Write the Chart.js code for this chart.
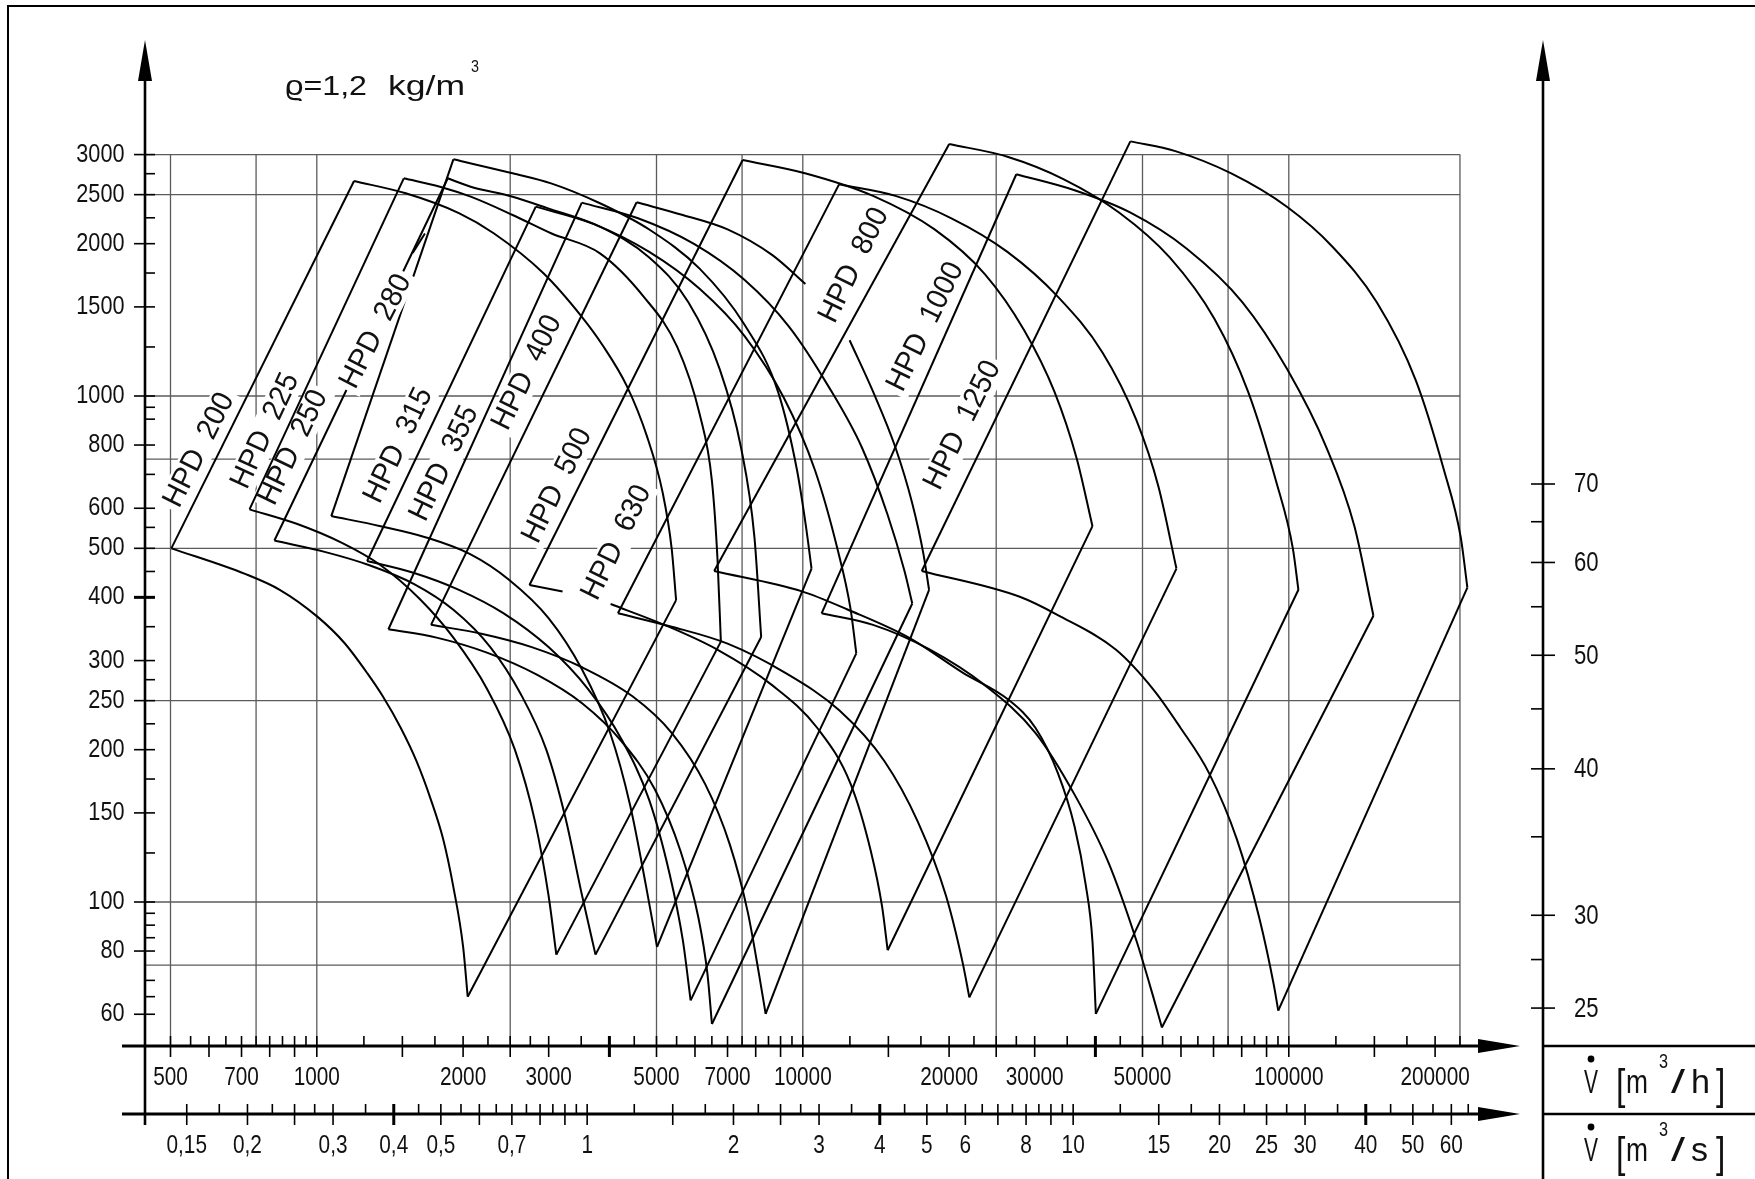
<!DOCTYPE html>
<html>
<head>
<meta charset="utf-8">
<title>HPD fan performance chart</title>
<script src="https://cdn.jsdelivr.net/npm/chart.js@4.4.1/dist/chart.umd.min.js"></script>
<style>
html,body{margin:0;padding:0;background:#ffffff;overflow:hidden}
#wrap{width:1755px;height:1179px}
canvas{display:block}
</style>
</head>
<body>
<div id="wrap"><canvas id="chart" width="1755" height="1179"></canvas></div>
<script>
// ===================== DATA (flow m3/h, pressure Pa) =====================
const fanNames = ['HPD 200','HPD 225','HPD 250','HPD 280','HPD 315','HPD 355','HPD 400','HPD 500','HPD 630','HPD 800','HPD 1000','HPD 1250'];

// lower (minimum speed) characteristic, from left corner to bottom corner
const hpd200Low = [[502,500],[712,445],[839,414],[1004,366],[1140,325],[1271,283],[1367,255],[1488,221],[1603,190],[1718,159],[1820,133],[1910,107],[2000,81.6],[2044,65.0]];
const hpd225Low = [[727,597],[909,559],[1124,513],[1353,463],[1629,397],[1910,333],[2239,264],[2556,200],[2813,144],[2998,103],[3111,78.7]];
const hpd250Low = [[818,518],[1038,492],[1283,463],[1586,425],[1910,378],[2275,319],[2626,258],[2966,200],[3246,147],[3514,103],[3745,78.7]];
const hpd280Low = [[1071,579],[1353,553],[1672,526],[2068,487],[2489,433],[2998,364],[3514,288],[4013,216],[4415,155],[4754,108],[5014,81.5]];
const hpd315Low = [[1269,472],[1586,447],[1961,414],[2424,372],[2998,319],[3609,264],[4232,210],[4831,159],[5316,114],[5664,84.1],[5878,63.9]];
const hpd355Low = [[1404,346],[1764,333],[2239,311],[2843,281],[3514,247],[4232,208],[4960,167],[5604,126],[6100,93],[6364,72.2],[6502,57.4]];
const hpd400Low = [[1718,353],[2181,339],[2768,319],[3514,291],[4462,255],[5372,216],[6297,171],[7075,130],[7705,95.5],[8123,72.2],[8386,60.1]];
const hpd500Low = [[2739,423],[3204,411],null,[4023,388],[5187,353],[6641,316],[8658,268],[10702,221],[12548,171],[13804,126],[14558,98],[14950,80.3]];
const hpd630Low = [[4165,372],[5372,350],[7002,324],[9129,285],[11899,239],[14714,190],[17250,144],[19700,103],[21325,75.9],[22014,64.8]];
const hpd800Low = [[6571,451],[9963,411],[12390,378],[16530,333],[21325,284],[26500,251],[30100,221],[33470,180],[36240,141],[38215,108],[39450,83.5],[40085,60.1]];
const hpd1000Low = [[10932,372],[13950,353],[18188,316],[23711,268],[30100,216],[36242,163],[42498,120],[48530,84.1],[52530,65.3],[54810,56.5]];
const hpd1250Low = [[17570,451],[27950,401],[33470,369],[44110,315],[52800,262],[59660,222],[68486,180],[78200,133],[86960,93],[93140,68.6],[95128,61.0]];

// upper (maximum speed) characteristic, from top corner to right corner
const hpd200High = [[1193,2660],[1524,2515],[1965,2296],[2312,2097],[2927,1748],[3510,1434],[3867,1263],[4345,1046],[4780,832],[5147,645],[5372,500],[5487,395]];
const hpd225High = [[1510,2693],[1792,2592],[2073,2477],[2529,2279],[3034,2097],[3825,1914],[4704,1572],[5516,1250],[6133,921],[6502,679],[6676,475],[6783,327]];
const hpd250High = [[1860,2693],[2073,2592],[2529,2477],[2982,2351],[3825,2161],[4831,1879],[5815,1532],[6748,1129],[7462,791],[7952,526],[8210,334]];
const hpd280High = [[1910,2936],[2529,2755],[3034,2632],[3825,2404],[4831,2133],[6133,1785],[7583,1384],[8891,1020],[9728,714],[10149,553],[10422,456]];
const hpd315High = [[2822,2367],[3706,2189],[4831,1927],[6133,1629],[7583,1315],[9129,994],[10590,714],[11776,500],[12548,378],[12885,310]];
const hpd355High = [[3510,2411],[4581,2245],[5972,1998],[7583,1697],[9374,1370],[11284,1046],[13230,791],[14950,582],[16190,451],[16799,389]];
const hpd400High = [[4551,2415],[5664,2279],[7002,2134],[8658,1898],[10123,1665],null,[12482,1289],[13950,1020],[15511,791],[16799,613],[17712,487],[18188,414]];
const hpd500High = [[7521,2926],[10149,2753],[13950,2486],[18670,2134],[23711,1740],[28540,1349],[32940,1020],[36630,751],[39447,553]];
const hpd630High = [[11874,2620],[15511,2486],[20222,2245],[26363,1927],[33470,1572],[41390,1218],[48530,898],[53950,661],[58725,456]];
const hpd800High = [[20010,3147],[26363,2971],[34365,2684],[44807,2303],[56880,1879],[70330,1420],[82450,1020],[94125,679],[101930,500],[104660,414]];
const hpd1000High = [[27500,2743],[36242,2550],[47243,2303],[61589,1957],[80296,1532],[99263,1129],[119530,791],[136458,553],[149320,368]];
const hpd1250High = [[47200,3186],[58415,3047],[76140,2753],[99263,2363],[122710,1977],[151710,1532],[182600,1073],[208550,714],[225800,526],[233050,418]];

const hpd280Leader = [[1575,1918],[1669,2095]];

const lowCurves = [hpd200Low,hpd225Low,hpd250Low,hpd280Low,hpd315Low,hpd355Low,hpd400Low,hpd500Low,hpd630Low,hpd800Low,hpd1000Low,hpd1250Low];
const highCurves = [hpd200High,hpd225High,hpd250High,hpd280High,hpd315High,hpd355High,hpd400High,hpd500High,hpd630High,hpd800High,hpd1000High,hpd1250High];

// fan name labels: anchor (flow, pressure) and text angle (deg)
const labelFlow = [573,784,895,1324,1473,1830,2710,3128,4142,12750,17900,21325];
const labelPressure = [782,853,791,1342,799,736,1112,665,513,1813,1370,875];
const labelAngle = [63.4,65,64.4,63,64.5,64.5,64,64,64,64,64,64];

// axes
const yTickLabels = [3000,2500,2000,1500,1000,800,600,500,400,300,250,200,150,100,80,60];
const yMinorTicks = [2750,2250,1750,1250,950,900,700,550,450,350,275,225,175,125,95,90,85,70,65];
const yThickTicks = [400];
const yGridLines = [3000,2500,1000,750,500,250,100,75];
const xGridLines = [500,750,1000,2500,5000,7500,10000,25000,50000,75000,100000,225000];
const xTickLabels = [500,700,1000,2000,3000,5000,7000,10000,20000,30000,50000,100000,200000];
const xLongTicks = [500,600,700,800,900,1000,1500,2000,2500,3000,4000,5000,6000,7000,8000,9000,10000,15000,20000,25000,30000,40000,50000,60000,70000,80000,90000,100000,150000,200000];
const xShortTicks = [550,650,750,850,950,1250,1750,2250,2750,3500,4500,5500,6500,7500,8500,9500,12500,17500,22500,27500,35000,45000,55000,65000,75000,85000,95000,125000,175000,225000];
const xThickTicks = [4000,40000];
const sTickLabels = [0.15,0.2,0.3,0.4,0.5,0.7,1,2,3,4,5,6,8,10,15,20,25,30,40,50,60];
const sLongTicks = [0.15,0.2,0.25,0.3,0.4,0.5,0.6,0.7,0.8,0.9,1,1.5,2,2.5,3,4,5,6,7,8,9,10,15,20,25,30,40,50,60];
const sShortTicks = [0.175,0.225,0.275,0.35,0.45,0.55,0.65,0.75,0.85,0.95,1.25,1.75,2.25,2.75,3.5,4.5,5.5,6.5,7.5,8.5,9.5,12.5,17.5,22.5,27.5,35,45,55,65];
const sThickTicks = [0.4,4,40];
const rightTickLabels = [70,60,50,40,30,25];
const rightMinorTicks = [65,55,45,35,27.5];

// ===================== LAYOUT =====================
const W = 1755, H = 1179;
const plotLeft = 145, plotRight = 1520, plotTop = 40, plotBottom = 1046;
const xRef = {value:1000, px:316.8, perDecade:486};
const yRef = {value:1000, px:396, perDecade:506};
const y2Ref = {value:70, px:484, perDecade:1172};
const axis2Offset = 68;      // second (m3/s) axis below the first
const rightAxisX = 1543;
const GRID = '#5b5b5b';
const FONT = '"Liberation Sans","DejaVu Sans",Arial,sans-serif';
const wipeoutLabels = ['HPD 280'];   // labels whose white box also hides the curves below

const xMin = xRef.value * Math.pow(10, (plotLeft - xRef.px) / xRef.perDecade);
const xMax = xRef.value * Math.pow(10, (plotRight - xRef.px) / xRef.perDecade);
const yMin = yRef.value * Math.pow(10, (yRef.px - plotBottom) / yRef.perDecade);
const yMax = yRef.value * Math.pow(10, (yRef.px - plotTop) / yRef.perDecade);
const y2Min = y2Ref.value * Math.pow(10, (y2Ref.px - plotBottom) / y2Ref.perDecade);
const y2Max = y2Ref.value * Math.pow(10, (y2Ref.px - plotTop) / y2Ref.perDecade);

// ===================== DATASETS =====================
function toPts(arr){
  const out = []; let lastX = null;
  arr.forEach(p => {
    if (p) { out.push({x:p[0], y:p[1]}); lastX = p[0]; }
    else { out.push({x:lastX, y:null}); }
  });
  return out;
}
const common = {showLine:true, borderColor:'#000', borderWidth:2, pointRadius:0, fill:false, clip:false, spanGaps:false};
const datasets = [];
fanNames.forEach((name, i) => {
  const low = lowCurves[i], high = highCurves[i];
  datasets.push(Object.assign({label:name+' low', data:toPts(low), cubicInterpolationMode:'monotone'}, common));
  datasets.push(Object.assign({label:name+' high', data:toPts(high), cubicInterpolationMode:'monotone'}, common));
  datasets.push(Object.assign({label:name+' left', data:toPts([low[0], high[0]]), tension:0}, common));
  datasets.push(Object.assign({label:name+' right', data:toPts([low[low.length-1], high[high.length-1]]), tension:0}, common));
});
datasets.push(Object.assign({label:'HPD 280 leader', data:toPts(hpd280Leader), tension:0}, common));

// ===================== DRAW HELPERS =====================
function seg(ctx, x1, y1, x2, y2, w, c){
  ctx.beginPath(); ctx.moveTo(x1, y1); ctx.lineTo(x2, y2);
  ctx.lineWidth = w; ctx.strokeStyle = c || '#000'; ctx.stroke();
}
function txt(ctx, s, x, y, size, opt){
  opt = opt || {};
  ctx.save();
  ctx.translate(x, y);
  if (opt.rot) ctx.rotate(opt.rot);
  ctx.font = size + 'px ' + FONT;
  let sx = opt.sx || 1;
  if (opt.width) sx = opt.width / ctx.measureText(s).width;
  ctx.scale(sx, 1);
  ctx.textAlign = opt.align || 'center';
  ctx.textBaseline = opt.base || 'middle';
  ctx.fillStyle = '#111';
  ctx.fillText(s, 0, 0);
  ctx.restore();
}
function fmtComma(v){ return String(v).replace('.', ','); }
function labelText(name){ return name.replace(' ', '  '); }
function labelMask(ctx, x, y, i, hh){
  const cx = x.getPixelForValue(labelFlow[i]), cy = y.getPixelForValue(labelPressure[i]);
  ctx.save();
  ctx.translate(cx, cy); ctx.rotate(-labelAngle[i] * Math.PI / 180);
  ctx.font = '30px ' + FONT;
  const w = ctx.measureText(labelText(fanNames[i])).width * 0.95 + 8;
  ctx.fillStyle = '#fff';
  ctx.fillRect(-w/2, -hh, w, 2 * hh);
  ctx.restore();
}

const deco = {
  id: 'deco',
  beforeDatasetsDraw(chart){
    const ctx = chart.ctx, x = chart.scales.x, y = chart.scales.y, area = chart.chartArea;
    ctx.save();
    // grid
    const gx0 = area.left, gx1 = x.getPixelForValue(225000);
    const gy0 = y.getPixelForValue(3000), gy1 = area.bottom;
    yGridLines.forEach(v => { const p = y.getPixelForValue(v); seg(ctx, gx0, p, gx1, p, 1.3, GRID); });
    xGridLines.forEach(v => { const p = x.getPixelForValue(v); seg(ctx, p, gy0, p, gy1, 1.3, GRID); });
    // white masks behind fan labels (they interrupt the grid)
    fanNames.forEach((name, i) => labelMask(ctx, x, y, i, 15));
    ctx.restore();
  },
  afterDatasetsDraw(chart){
    const ctx = chart.ctx, x = chart.scales.x, y = chart.scales.y, y2 = chart.scales.y2, area = chart.chartArea;
    ctx.save();
    ctx.lineCap = 'butt';
    // outer frame
    seg(ctx, 8, 6, 8, H, 2);
    seg(ctx, 7, 6, W, 6, 2);

    // fan labels
    fanNames.forEach((name, i) => {
      if (wipeoutLabels.includes(name)) labelMask(ctx, x, y, i, 13);
      const cx = x.getPixelForValue(labelFlow[i]), cy = y.getPixelForValue(labelPressure[i]);
      txt(ctx, labelText(name), cx, cy, 30, {rot: -labelAngle[i] * Math.PI / 180, sx: 0.95});
    });

    const ax1 = area.bottom, ax2 = area.bottom + axis2Offset;
    // left y axis
    seg(ctx, area.left, area.top + 30, area.left, ax2 + 11, 2.6);
    ctx.fillStyle = '#000';
    ctx.beginPath(); ctx.moveTo(area.left, area.top); ctx.lineTo(area.left - 7, area.top + 41); ctx.lineTo(area.left + 7, area.top + 41); ctx.closePath(); ctx.fill();
    // right axis
    seg(ctx, rightAxisX, area.top + 30, rightAxisX, H, 2.6);
    ctx.beginPath(); ctx.moveTo(rightAxisX, area.top); ctx.lineTo(rightAxisX - 7, area.top + 41); ctx.lineTo(rightAxisX + 7, area.top + 41); ctx.closePath(); ctx.fill();
    // x axes
    [ax1, ax2].forEach(yy => {
      seg(ctx, area.left - 23, yy, area.right - 30, yy, 3);
      ctx.beginPath(); ctx.moveTo(area.right, yy); ctx.lineTo(area.right - 42, yy - 7); ctx.lineTo(area.right - 42, yy + 7); ctx.closePath(); ctx.fill();
      seg(ctx, rightAxisX, yy, W, yy, 2.6);
    });

    // y ticks and labels
    yTickLabels.forEach(v => {
      const p = y.getPixelForValue(v);
      seg(ctx, area.left - 11, p, area.left + 10, p, yThickTicks.includes(v) ? 3 : 1.6);
      txt(ctx, String(v), area.left - 20.5, p, 25.5, {align:'right', sx:0.85});
    });
    yMinorTicks.forEach(v => { const p = y.getPixelForValue(v); seg(ctx, area.left, p, area.left + 10, p, 1.6); });

    // right axis ticks
    rightTickLabels.forEach(v => {
      const p = y2.getPixelForValue(v);
      seg(ctx, rightAxisX - 12, p, rightAxisX + 12, p, 1.6);
      txt(ctx, String(v), rightAxisX + 31, p + 1, 27, {align:'left', sx:0.82});
    });
    rightMinorTicks.forEach(v => { const p = y2.getPixelForValue(v); seg(ctx, rightAxisX - 12, p, rightAxisX, p, 1.6); });

    // m3/h axis
    xLongTicks.forEach(v => { const p = x.getPixelForValue(v); seg(ctx, p, ax1 - 10, p, ax1 + 11, xThickTicks.includes(v) ? 3 : 1.6); });
    xShortTicks.forEach(v => { const p = x.getPixelForValue(v); seg(ctx, p, ax1 - 10, p, ax1, 1.6); });
    xTickLabels.forEach(v => txt(ctx, String(v), x.getPixelForValue(v), ax1 + 32, 26, {sx:0.8}));
    // m3/s axis
    sLongTicks.forEach(v => { const p = x.getPixelForValue(v * 3600); seg(ctx, p, ax2 - 10, p, ax2 + 11, sThickTicks.includes(v) ? 3 : 1.6); });
    sShortTicks.forEach(v => { const p = x.getPixelForValue(v * 3600); seg(ctx, p, ax2 - 10, p, ax2, 1.6); });
    sTickLabels.forEach(v => txt(ctx, fmtComma(v), x.getPixelForValue(v * 3600), ax2 + 32, 26, {sx:0.8}));

    // unit labels  V̇ [m³/h]  and  V̇ [m³/s]
    [[ax1, 'h'], [ax2, 's']].forEach(([yy, u]) => {
      const base = yy + 47;
      txt(ctx, 'V', 1584, base, 34, {align:'left', base:'alphabetic', width:14});
      ctx.beginPath(); ctx.arc(1591, base - 34, 3.4, 0, Math.PI * 2); ctx.fill();
      txt(ctx, '[', 1616, base + 6, 42, {align:'left', base:'alphabetic', sx:0.8});
      txt(ctx, 'm', 1626, base, 34, {align:'left', base:'alphabetic', width:22});
      txt(ctx, '3', 1659, base - 25, 20, {align:'left', base:'alphabetic', width:9});
      txt(ctx, '/', 1671, base, 34, {align:'left', base:'alphabetic', width:14});
      txt(ctx, u, 1691, base, 34, {align:'left', base:'alphabetic', width:u === 'h' ? 19 : 17});
      txt(ctx, ']', 1716, base + 6, 42, {align:'left', base:'alphabetic', sx:0.8});
    });

    // density note
    txt(ctx, '\u03F1=1,2', 285, 95, 27.5, {align:'left', base:'alphabetic', width:82});
    txt(ctx, 'kg/m', 388, 95, 27.5, {align:'left', base:'alphabetic', width:77});
    txt(ctx, '3', 471, 72, 17, {align:'left', base:'alphabetic', width:8});
    ctx.restore();
  }
};

new Chart(document.getElementById('chart'), {
  type: 'scatter',
  data: { datasets },
  options: {
    responsive: false,
    animation: false,
    devicePixelRatio: 1,
    events: [],
    layout: { padding: { left: plotLeft, right: W - plotRight, top: plotTop, bottom: H - plotBottom } },
    plugins: { legend: { display: false }, tooltip: { enabled: false } },
    scales: {
      x: { type: 'logarithmic', display: false, bounds: 'data', min: xMin, max: xMax },
      y: { type: 'logarithmic', display: false, bounds: 'data', min: yMin, max: yMax },
      y2: { type: 'logarithmic', display: false, bounds: 'data', position: 'right', min: y2Min, max: y2Max }
    }
  },
  plugins: [deco]
});
</script>
</body>
</html>
